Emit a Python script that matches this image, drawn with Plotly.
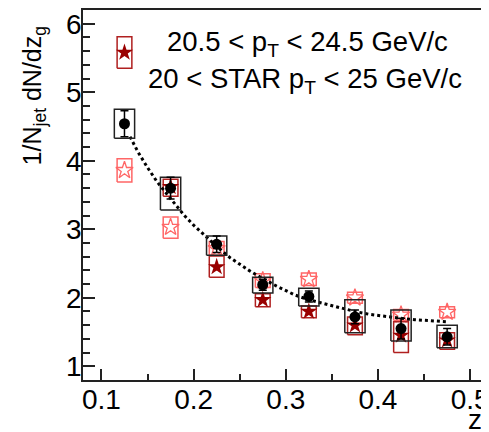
import plotly.graph_objects as go

# ---- data ----
zg_bins = [0.125, 0.175, 0.225, 0.275, 0.325, 0.375, 0.425, 0.475]

# STAR data (black)
star_val = [4.54, 3.60, 2.78, 2.19, 2.02, 1.72, 1.55, 1.43]
star_stat = [0.19, 0.16, 0.12, 0.08, 0.08, 0.10, 0.15, 0.12]
star_sys_lo = [4.33, 3.28, 2.62, 2.07, 1.88, 1.49, 1.37, 1.27]
star_sys_hi = [4.75, 3.76, 2.90, 2.30, 2.14, 1.97, 1.82, 1.60]

# dark red series (filled stars)
dred_val = [5.58, 3.62, 2.45, 1.97, 1.80, 1.60, 1.45, 1.38]
dred_stat = [0.05, 0.05, 0.05, 0.04, 0.04, 0.04, 0.05, 0.05]
dred_sys_lo = [5.35, 3.48, 2.30, 1.87, 1.71, 1.46, 1.20, 1.25]
dred_sys_hi = [5.81, 3.73, 2.61, 2.06, 1.88, 1.72, 1.65, 1.49]

# light red series (open stars)
lred_val = [3.86, 3.03, 2.72, 2.25, 2.27, 2.00, 1.75, 1.79]
lred_sys_lo = [3.69, 2.87, 2.62, 2.15, 2.18, 1.92, 1.67, 1.71]
lred_sys_hi = [4.03, 3.18, 2.82, 2.35, 2.36, 2.08, 1.83, 1.87]

# dotted curve
curve_x = [0.131, 0.140, 0.150, 0.160, 0.170, 0.180, 0.190, 0.200, 0.210,
           0.225, 0.240, 0.260, 0.275, 0.290, 0.310, 0.325, 0.340, 0.360,
           0.375, 0.390, 0.410, 0.425, 0.440, 0.460, 0.475]
curve_y = [4.35, 4.12, 3.90, 3.70, 3.53, 3.36, 3.20, 3.06, 2.93,
           2.75, 2.58, 2.40, 2.28, 2.17, 2.04, 1.97, 1.92, 1.85,
           1.80, 1.76, 1.72, 1.70, 1.68, 1.66, 1.65]

x_ticks = [0.1, 0.2, 0.3, 0.4, 0.5]
y_ticks = [1, 2, 3, 4, 5, 6]

legend_line1 = "20.5 < p<sub>T</sub> < 24.5 GeV/c"
legend_line2 = "20 < STAR p<sub>T</sub> < 25 GeV/c"

FONT = "Liberation Sans, Arial, Helvetica, sans-serif"
DRED = "#990000"
LRED = "#ff6666"

# page body has an 8px default margin; compensate so the plot lands in place
BODY = 8
PL, PT = 83, 9          # plot area left / top in window pixels
PW, PH = 406, 371       # plot area size


def box_path(xs, lo, hi, hw):
    px, py = [], []
    for x, l, h in zip(xs, lo, hi):
        px += [x - hw, x + hw, x + hw, x - hw, x - hw, None]
        py += [l, l, h, h, l, None]
    return px, py


def paper_x(px):
    return (px - PL) / PW


def paper_y(py):
    return (PT + PH - py) / PH


fig = go.Figure()

# light red boxes + markers
bx, by = box_path(zg_bins, lred_sys_lo, lred_sys_hi, 0.008)
fig.add_trace(go.Scatter(x=bx, y=by, mode="lines",
                         line=dict(color=LRED, width=1.5), showlegend=False))
fig.add_trace(go.Scatter(x=zg_bins, y=lred_val, mode="markers",
                         marker=dict(symbol="star-open", size=13, color=LRED,
                                     line=dict(color=LRED, width=1.3)),
                         showlegend=False))

# dark red boxes + markers
bx, by = box_path(zg_bins, dred_sys_lo, dred_sys_hi, 0.008)
fig.add_trace(go.Scatter(x=bx, y=by, mode="lines",
                         line=dict(color="#b02020", width=1.5), showlegend=False))
fig.add_trace(go.Scatter(x=zg_bins, y=dred_val, mode="markers",
                         marker=dict(symbol="star", size=13, color=DRED,
                                     line=dict(width=0)),
                         error_y=dict(type="data", array=dred_stat, color=DRED,
                                      thickness=1.5, width=0),
                         showlegend=False))

# dotted curve
fig.add_trace(go.Scatter(x=curve_x, y=curve_y, mode="lines",
                         line=dict(color="black", width=3, dash="dot"),
                         showlegend=False))

# black boxes + markers
bx, by = box_path(zg_bins, star_sys_lo, star_sys_hi, 0.011)
fig.add_trace(go.Scatter(x=bx, y=by, mode="lines",
                         line=dict(color="#222222", width=1.5), showlegend=False))
fig.add_trace(go.Scatter(x=zg_bins, y=star_val, mode="markers",
                         marker=dict(symbol="circle", size=11, color="black"),
                         error_y=dict(type="data", array=star_stat, color="black",
                                      thickness=1.5, width=4),
                         showlegend=False))

axis_common = dict(showgrid=False, zeroline=False, showline=True, mirror=True,
                   linecolor="#222222", linewidth=1.5, ticks="inside",
                   tickcolor="#222222", tickwidth=1.5,
                   tickfont=dict(family=FONT, size=28, color="black"))

fig.update_xaxes(range=[0.08, 0.515], tickvals=x_ticks,
                 ticktext=[f"{v:g}" for v in x_ticks], ticklen=11,
                 ticklabelstandoff=-6, ticklabeloverflow="allow",
                 minor=dict(ticks="inside", ticklen=6, dtick=0.05,
                            tick0=0.05, tickcolor="#222222", tickwidth=1.5),
                 **axis_common)
fig.update_yaxes(range=[0.8, 6.2], tickvals=y_ticks, ticklen=12,
                 ticklabelstandoff=-6, ticklabeloverflow="allow",
                 minor=dict(ticks="inside", ticklen=7, dtick=0.2,
                            tick0=0, tickcolor="#222222", tickwidth=1.5),
                 **axis_common)

fig.add_annotation(text=legend_line1, xref="paper", yref="paper",
                   x=paper_x(310), y=paper_y(43),
                   xanchor="center", yanchor="middle", showarrow=False,
                   font=dict(family=FONT, size=27.5, color="black"))
fig.add_annotation(text=legend_line2, xref="paper", yref="paper",
                   x=paper_x(308), y=paper_y(80),
                   xanchor="center", yanchor="middle", showarrow=False,
                   font=dict(family=FONT, size=27.5, color="black"))

# axis titles
fig.add_annotation(text="1/N<sub>jet</sub> dN/dz<sub>g</sub>", xref="paper",
                   yref="paper", x=paper_x(33), y=paper_y(95),
                   xanchor="center", yanchor="middle", textangle=-90,
                   showarrow=False, font=dict(family=FONT, size=25, color="black"))
fig.add_annotation(text="z<sub>g</sub>", xref="paper", yref="paper",
                   x=paper_x(471), y=paper_y(422),
                   xanchor="left", yanchor="middle", showarrow=False,
                   font=dict(family=FONT, size=28, color="black"))

fig.update_layout(width=489 - BODY, height=432 - BODY,
                  margin=dict(l=PL - BODY, r=0, t=PT - BODY,
                              b=432 - PT - PH, pad=0),
                  paper_bgcolor="white", plot_bgcolor="white",
                  showlegend=False)

fig.write_html("out.html")
